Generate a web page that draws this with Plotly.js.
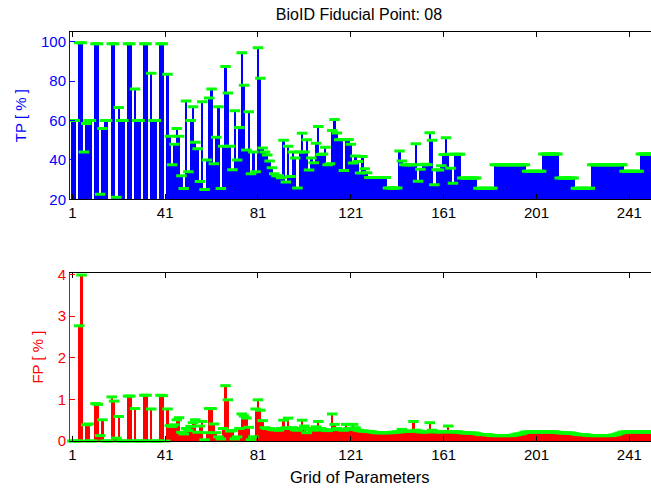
<!DOCTYPE html>
<html>
<head>
<meta charset="utf-8">
<script src="https://cdn.plot.ly/plotly-3.0.1.min.js"></script>
<style>
html,body{margin:0;padding:0;overflow:hidden;background:#fff;}
#chart{width:680px;height:489px;}
</style>
</head>
<body>
<div id="chart"></div>
<script>
// True positive rate [%] for each grid point (1..252)
const TP = [
60,60,15,99.5,99.5,44,58.5,60,60,15,
99,99,22.5,56,60,60,15,99,99,21,
66.6,60,60,15,99,99,15,76,60,60,
15,99,99,15,84,60,60,15,99,99,
15,83.5,52,37.5,48,56,52,32,25.5,70,
34,60,67,49,45.7,29,69.5,25,40,71.5,
76,38,51.5,67,25.5,47,87.5,74,47,35,
65,40,56.5,94.5,78,45,64.5,33,44,34,
97,81.5,46,44,42.5,39.5,36,33,32,32,
31,50,28.8,47,31.6,44,41,25.7,44,53.6,
44,50.2,34.9,41,38.5,48.5,57,42.7,43,46.4,
37.6,38,55,60.6,53.7,50.2,50.4,34.6,50.2,50.4,
47.9,38.4,42,39.2,33.3,41.8,35.5,33.5,31.1,31.1,
31.1,31.1,31.1,31.1,31.1,31.1,25.7,25.7,25.7,25.7,
25.7,44.5,39.5,37.6,37.6,37.6,37.6,37.6,48.2,29.1,
35.3,37.6,37.8,37.6,53.8,50,27.4,35,34.9,37,
42.7,51.3,42.9,35.8,28.2,42.9,42.9,42.9,30.8,30.8,
30.8,30.8,30.8,30.8,30.8,25.6,25.6,25.6,25.6,25.6,
25.6,25.6,37.6,37.6,37.6,37.6,37.6,37.6,37.6,37.6,
37.6,37.6,37.6,37.6,37.6,37.6,34.2,34.2,34.2,34.2,
34.2,34.2,34.2,43,43,43,43,43,43,43,
30.8,30.8,30.8,30.8,30.8,30.8,30.8,25.6,25.6,25.6,
25.6,25.6,25.6,25.6,37.6,37.6,37.6,37.6,37.6,37.6,
37.6,37.6,37.6,37.6,37.6,37.6,37.6,37.6,34.2,34.2,
34.2,34.2,34.2,34.2,34.2,43,43,43,43,43,
43,43
];

// False positive rate [%] for each grid point (1..252)
const FP = [
0,0,0,2.77,3.99,0,0.39,0.41,0,0,
0.9,0.88,0.13,0.51,0,0,0,1.06,0.96,0.07,
0.59,0,0,0,1.08,1.08,0,0.78,0,0,
0,1.1,1.1,0,0.77,0,0,0,1.1,1.09,
0,0.77,0.37,0.35,0.39,0.51,0.56,0.21,0.17,0.3,
0.25,0.35,0.44,0.51,0.21,0.36,0.47,0.03,0.2,0.78,
0.78,0.41,0.2,0.1,0.05,0.3,1.33,0.99,0.24,0.25,
0.05,0.1,0.3,0.65,0.6,0.55,0.33,0.03,0.1,0.77,
0.99,0.74,0.49,0.32,0.3,0.3,0.28,0.27,0.27,0.26,
0.3,0.5,0.32,0.55,0.3,0.32,0.27,0.26,0.3,0.5,
0.36,0.2,0.28,0.3,0.26,0.34,0.47,0.3,0.27,0.26,
0.25,0.27,0.65,0.4,0.3,0.28,0.27,0.26,0.4,0.3,
0.28,0.4,0.32,0.26,0.25,0.24,0.24,0.23,0.23,0.22,
0.21,0.2,0.2,0.2,0.2,0.2,0.2,0.2,0.21,0.21,
0.22,0.22,0.28,0.24,0.23,0.23,0.24,0.47,0.26,0.24,
0.22,0.22,0.22,0.22,0.44,0.26,0.23,0.22,0.22,0.22,
0.22,0.23,0.36,0.22,0.22,0.22,0.22,0.21,0.2,0.194,
0.194,0.194,0.194,0.19,0.18,0.165,0.154,0.154,0.154,0.15,
0.14,0.13,0.13,0.13,0.13,0.13,0.13,0.13,0.13,0.13,
0.14,0.15,0.17,0.17,0.19,0.21,0.218,0.218,0.218,0.218,
0.218,0.218,0.218,0.218,0.218,0.218,0.218,0.218,0.218,0.21,
0.2,0.194,0.194,0.194,0.194,0.19,0.18,0.165,0.154,0.154,
0.154,0.15,0.14,0.13,0.13,0.13,0.13,0.13,0.13,0.13,
0.13,0.13,0.13,0.14,0.15,0.17,0.19,0.21,0.218,0.218,
0.218,0.218,0.218,0.218,0.218,0.218,0.218,0.218,0.218,0.218,
0.218,0.218
];

const TICKS = [1, 41, 81, 121, 161, 201, 241];
const TP_TICKS = [20, 40, 60, 80, 100];
const FP_TICKS = [0, 1, 2, 3, 4];

const GRID = TP.map((_, k) => k + 1);

const FONT = 'Liberation Sans, Arial, Helvetica, sans-serif';
const CAP = {symbol: 'line-ew', size: 7.5, color: '#00ff00', line: {color: '#00ff00', width: 3}};

const traces = [
  {type: 'bar', x: GRID, y: TP, xaxis: 'x', yaxis: 'y',
   marker: {color: '#0000ff', line: {width: 0}}, hoverinfo: 'x+y'},
  {type: 'scatter', mode: 'markers', x: GRID, y: TP, xaxis: 'x', yaxis: 'y',
   marker: CAP, hoverinfo: 'skip'},
  {type: 'bar', x: GRID, y: FP, xaxis: 'x2', yaxis: 'y2',
   marker: {color: '#ff0000', line: {width: 0}}, hoverinfo: 'x+y'},
  {type: 'scatter', mode: 'markers', x: GRID, y: FP, xaxis: 'x2', yaxis: 'y2',
   marker: CAP, cliponaxis: false, hoverinfo: 'skip'}
];

const xBase = {
  range: [0, 254.65], tickmode: 'array', tickvals: TICKS, ticktext: TICKS.map(String),
  ticks: 'inside', ticklen: 5, tickcolor: '#000', showline: true, linecolor: '#000',
  linewidth: 1, mirror: 'ticks', showgrid: false, zeroline: false,
  tickfont: {family: FONT, size: 15, color: '#000'}
};

const layout = {
  width: 680, height: 489,
  margin: {l: 70, r: 19, t: 32, b: 48},
  paper_bgcolor: '#fff', plot_bgcolor: '#fff',
  showlegend: false, bargap: 0, barmode: 'overlay',
  font: {family: FONT, size: 15, color: '#000'},
  title: {text: 'BioID Fiducial Point: 08', xref: 'container', x: 359 / 680, xanchor: 'center',
          yref: 'container', y: 0.971, yanchor: 'middle',
          font: {family: FONT, size: 16, color: '#000'}},
  xaxis: Object.assign({}, xBase, {domain: [0, 1], anchor: 'y'}),
  xaxis2: Object.assign({}, xBase, {domain: [0, 1], anchor: 'y2'}),
  yaxis: {
    domain: [0.591, 1], anchor: 'x', range: [20, 105], tickmode: 'array', tickvals: TP_TICKS,
    ticks: 'inside', ticklen: 5, tickcolor: '#0000ff', showline: true, linecolor: '#0000ff',
    mirror: 'ticks', showgrid: false, zeroline: false,
    tickfont: {family: FONT, size: 15, color: '#0000ff'},
    title: {text: 'TP [ % ]', standoff: 10, font: {family: FONT, size: 15, color: '#0000ff'}}
  },
  yaxis2: {
    domain: [0, 0.4108], anchor: 'x2', range: [0, 4.04], tickmode: 'array', tickvals: FP_TICKS,
    ticks: 'inside', ticklen: 5, tickcolor: '#ff0000', showline: true, linecolor: '#ff0000',
    mirror: 'ticks', showgrid: false, zeroline: false,
    tickfont: {family: FONT, size: 15, color: '#ff0000'},
    title: {text: 'FP [ % ]', standoff: 10, font: {family: FONT, size: 15, color: '#ff0000'}}
  },
  annotations: [
    {text: 'Grid of Parameters', xref: 'paper', yref: 'paper', x: (359 - 70) / 591, y: 0,
     xanchor: 'center', yanchor: 'middle', yshift: -36, showarrow: false,
     font: {family: FONT, size: 16.5, color: '#000'}}
  ]
};

Plotly.newPlot('chart', traces, layout, {displayModeBar: false, staticPlot: true});
</script>
</body>
</html>
